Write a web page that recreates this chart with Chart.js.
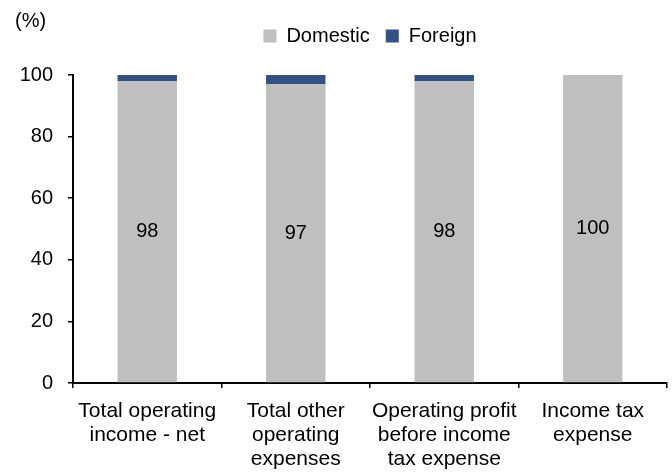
<!DOCTYPE html>
<html lang="en">
<head>
<meta charset="UTF-8">
<title>Domestic vs foreign share</title>
<script src="https://cdn.jsdelivr.net/npm/chart.js@4"></script>
<style>
  html, body { margin: 0; padding: 0; background: #fff; }
  #wrap { width: 672px; height: 472px; }
</style>
</head>
<body>
<div id="wrap"><canvas id="myChart"></canvas></div>
<script>
const categories = [
  ['Total operating', 'income - net'],
  ['Total other', 'operating', 'expenses'],
  ['Operating profit', 'before income', 'tax expense'],
  ['Income tax', 'expense']
];
const domestic = [98, 97, 98, 100];
const foreign = [2, 3, 2, 0];
const yTicks = [0, 20, 40, 60, 80, 100];
const unitLabel = '(%)';

const FONT = 'Liberation Sans, Arial, sans-serif';
const SIZE = 20;

// value labels in the middle of the grey bars + the (%) unit text
const extras = {
  id: 'extras',
  afterDatasetsDraw(chart) {
    const ctx = chart.ctx;
    ctx.save();
    ctx.font = SIZE + 'px ' + FONT;
    ctx.fillStyle = '#000';
    ctx.textAlign = 'center';
    ctx.textBaseline = 'middle';
    chart.getDatasetMeta(0).data.forEach((bar, i) => {
      ctx.fillText(String(domestic[i]), bar.x, (bar.y + bar.base) / 2);
    });
    ctx.textAlign = 'left';
    ctx.fillText(unitLabel, 15, 21);
    ctx.restore();
  }
};

const ctx = document.getElementById('myChart').getContext('2d');
new Chart(ctx, {
  type: 'bar',
  data: {
    labels: categories,
    datasets: [
      {
        label: 'Domestic',
        data: domestic,
        backgroundColor: '#BFBFBF',
        barPercentage: 0.4,
        categoryPercentage: 1
      },
      {
        label: 'Foreign',
        data: foreign,
        backgroundColor: '#335183',
        barPercentage: 0.4,
        categoryPercentage: 1
      }
    ]
  },
  options: {
    responsive: true,
    maintainAspectRatio: false,
    animation: false,
    layout: { padding: { top: 10, right: 5, left: 0, bottom: 0 } },
    plugins: {
      legend: {
        position: 'top',
        fullSize: false,
        labels: {
          font: { family: FONT, size: SIZE },
          color: '#000',
          boxWidth: 13,
          boxHeight: 13,
          padding: 16,
          useBorderRadius: false
        }
      },
      // empty spacer between legend and plot
      subtitle: {
        display: true,
        text: '',
        position: 'top',
        fullSize: false,
        weight: 500,
        font: { size: 1, lineHeight: 1 },
        padding: { top: 0, bottom: 18 }
      },
      tooltip: { enabled: false }
    },
    scales: {
      x: {
        stacked: true,
        afterFit(axis) { axis.height = 89; },
        grid: { display: true, drawOnChartArea: false, color: '#000', lineWidth: 1.5, tickLength: 5, offset: true },
        border: { color: '#000', width: 2 },
        ticks: {
          font: { family: FONT, size: 21, lineHeight: 1.15 },
          color: '#000', maxRotation: 0, autoSkip: false, padding: 11
        }
      },
      y: {
        stacked: true,
        min: 0,
        max: 100,
        afterBuildTicks(axis) { axis.ticks = yTicks.map(v => ({ value: v })); },
        afterFit(axis) { axis.width = 73; },
        grid: { display: true, drawOnChartArea: false, color: '#000', lineWidth: 1.5, tickLength: 5 },
        border: { color: '#000', width: 2 },
        ticks: { font: { family: FONT, size: SIZE }, color: '#000', padding: 15 }
      }
    }
  },
  plugins: [extras]
});
</script>
</body>
</html>
